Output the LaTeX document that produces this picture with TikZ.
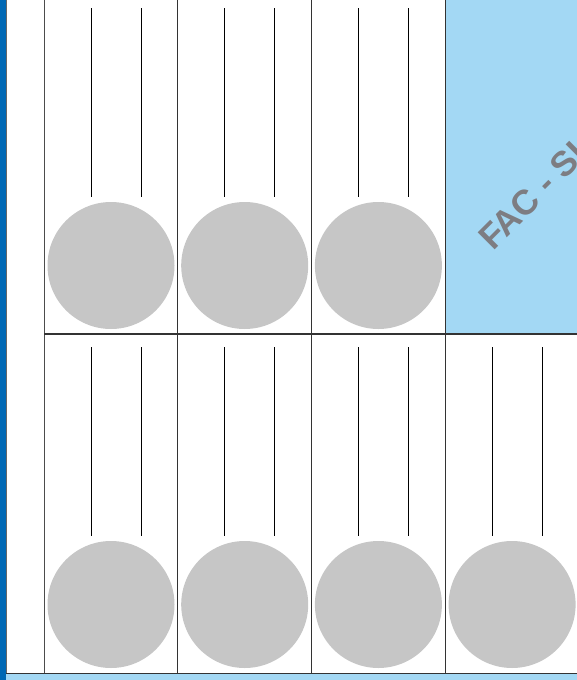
\documentclass[tikz,border=0pt]{standalone}
\usepackage{fontspec}
\setsansfont{Liberation Sans}
\usetikzlibrary{positioning}
\definecolor{stripblue}{HTML}{0068B4}
\definecolor{panelblue}{HTML}{A3D8F4}
\definecolor{ballgray}{HTML}{C6C6C6}
\definecolor{tagtext}{HTML}{7D7D82}

\begin{document}
\begin{tikzpicture}[x=1pt, y=-1pt,
    frame/.style = {draw=black!80, line width=1.2pt},
    ball/.style = {circle, fill=ballgray, minimum size=127pt, inner sep=0pt},
    rod/.style = {black, line width=1pt}]
    \useasboundingbox (0,0) rectangle (577,680);
    % side and bottom strips
    \fill[stripblue] (0,0) rectangle (6,680);
    \fill[panelblue] (6,674) rectangle (577,680);
    \draw[black!60, line width=1pt] (6,0) -- (6,674);
    \draw[black!70, line width=1pt] (44,0) -- (44,673);
    % empty panel with tag
    \fill[panelblue] (445,0) rectangle (577,334);
    \begin{scope}
        \clip (445,0) rectangle (577,334);
        \node[rotate=45, anchor=base west, inner sep=0pt, text=tagtext,
              font=\sffamily\bfseries\fontsize{35}{35}\selectfont] (tag) at (493,252) {FAC - SI};
    \end{scope}
    % cells: top row has three, bottom row four
    \foreach \r/\n in {0/3, 1/4} {
        \foreach \c in {1,...,\n} {
            \pgfmathsetmacro{\xl}{44+133.7*(\c-1)}
            \pgfmathsetmacro{\yt}{339*\r}
            \node[ball] (ball-\r-\c) at (\xl+67, \yt+265.5) {};
            \draw[rod] (\xl+47, \yt+8) -- (\xl+47, \yt+197);
            \draw[rod] (\xl+97, \yt+8) -- (\xl+97, \yt+197);
            \draw[frame] (\xl+133.7, \yt-5*\r) -- (\xl+133.7, \yt+334);
        }
    }
    \draw[frame] (44,334) -- (577,334);
    \draw[frame, line width=1.6pt] (6,673.5) -- (577,673.5);
\end{tikzpicture}
\end{document}
